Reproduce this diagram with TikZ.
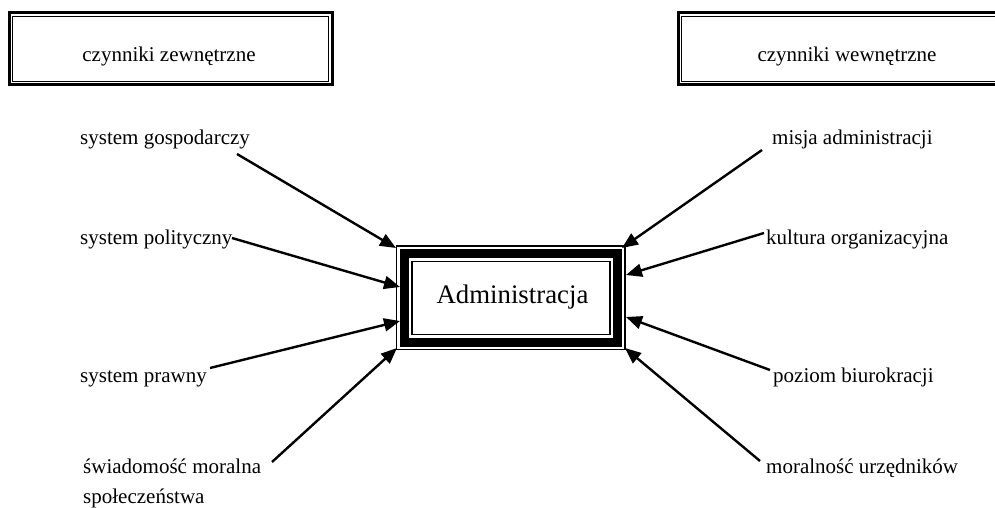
\documentclass[tikz,border=0pt]{standalone}
\usepackage{fontspec}
\setmainfont{Liberation Serif}
\usetikzlibrary{arrows.meta}
\tikzset{
  lbl/.style={anchor=base west, inner sep=0pt, font=\fontsize{21}{30}\selectfont},
  ctr/.style={anchor=base, inner sep=0pt, font=\fontsize{21}{30}\selectfont},
  arr/.style={line width=2.4pt, -{Triangle[length=16pt,width=13pt]}},
  thickframe/.style={line width=3pt},
  thinframe/.style={line width=1pt},
}
\begin{document}
\begin{tikzpicture}[x=1pt,y=-1pt]
\clip (0,0) rectangle (995,508);
\fill[white] (0,0) rectangle (995,508);
% top boxes
\draw[thickframe] (9,13) rectangle (332,84.5);
\draw[thinframe] (12.2,16.2) rectangle (328.8,81.3);
\node[ctr] (zew) at (169,61.7) {czynniki zewnętrzne};
\draw[thickframe] (678,13) rectangle (1030,84.5);
\draw[thinframe] (681.2,16.2) rectangle (1030,81.3);
\node[ctr] (wew) at (847,61.7) {czynniki wewnętrzne};
% central box
\node[draw, line width=1.3pt, minimum width=228.2pt, minimum height=103.8pt, inner sep=0pt] (adm) at (510.9,297.9) {};
\draw[line width=9pt] ([shift={(8.2,8.2)}]adm.north west) rectangle ([shift={(-8.2,-8.2)}]adm.south east);
\draw[line width=1.3pt] ([shift={(15.8,15.8)}]adm.north west) rectangle ([shift={(-15.8,-15.8)}]adm.south east);
\node[anchor=base, inner sep=0pt, font=\fontsize{26.8}{30}\selectfont] (admt) at (512.5,303.5) {Administracja};
% left labels
\node[lbl] (gos) at (80,144) {system gospodarczy};
\node[lbl] (pol) at (80,244) {system polityczny};
\node[lbl] (pra) at (80,382) {system prawny};
\node[lbl] (swi) at (83,473) {świadomość moralna};
\node[lbl] (spo) at (83,503) {społeczeństwa};
% right labels
\node[lbl] (mis) at (772,144) {misja administracji};
\node[lbl] (kul) at (766,244) {kultura organizacyjna};
\node[lbl] (poz) at (773,382) {poziom biurokracji};
\node[lbl] (mor) at (766,473) {moralność urzędników};
% arrow ends
\coordinate (s1) at (237,154); \coordinate (e1) at (396,248);
\coordinate (s2) at (232,238); \coordinate (e2) at (400,287);
\coordinate (s3) at (210,368); \coordinate (e3) at (400,321);
\coordinate (s4) at (272,462); \coordinate (e4) at (397,348);
\coordinate (s5) at (762,150); \coordinate (e5) at (622,248);
\coordinate (s6) at (764,233); \coordinate (e6) at (626,275);
\coordinate (s7) at (770,370); \coordinate (e7) at (626,317);
\coordinate (s8) at (760,461); \coordinate (e8) at (625,348);
\foreach \i in {1,...,8} { \draw[arr] (s\i) -- (e\i); }
\end{tikzpicture}
\end{document}
